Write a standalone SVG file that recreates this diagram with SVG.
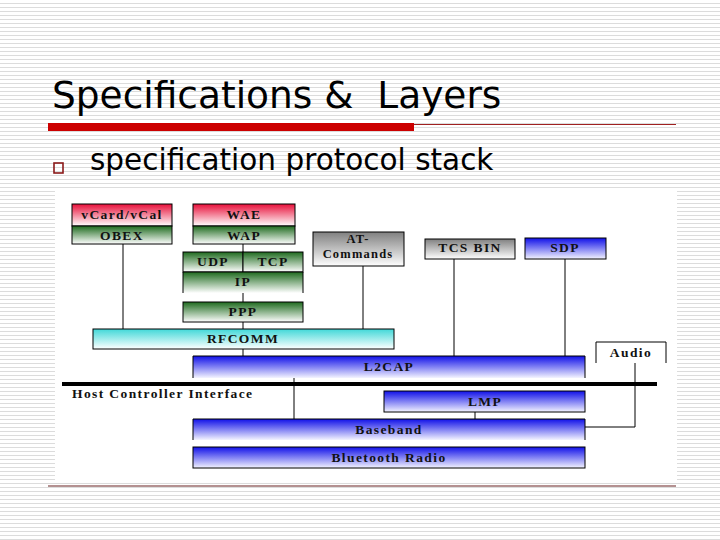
<svg xmlns="http://www.w3.org/2000/svg" width="720" height="540" viewBox="0 0 720 540">
<defs>
<pattern id="stripes" width="8" height="4" patternUnits="userSpaceOnUse">
<rect width="8" height="4" fill="#ffffff"/>
<rect y="3" width="8" height="1" fill="#dcdcdc"/>
</pattern>
<linearGradient id="gRed" x1="0" y1="0" x2="0" y2="1"><stop offset="0" stop-color="#e8103a"/><stop offset="1" stop-color="#ffffff"/></linearGradient>
<linearGradient id="gGreen" x1="0" y1="0" x2="0" y2="1"><stop offset="0" stop-color="#1e6a1e"/><stop offset="1" stop-color="#ffffff"/></linearGradient>
<linearGradient id="gCyan" x1="0" y1="0" x2="0" y2="1"><stop offset="0" stop-color="#40d8d8"/><stop offset="1" stop-color="#ffffff"/></linearGradient>
<linearGradient id="gBlue" x1="0" y1="0" x2="0" y2="1"><stop offset="0" stop-color="#1010e8"/><stop offset="1" stop-color="#f4f4ff"/></linearGradient>
<linearGradient id="gGray" x1="0" y1="0" x2="0" y2="1"><stop offset="0" stop-color="#808080"/><stop offset="1" stop-color="#ffffff"/></linearGradient>
</defs>
<style>
.box{stroke:#000;stroke-width:1}
.lbl{font-family:"Liberation Serif","Times New Roman",serif;font-weight:bold;font-size:13.5px;letter-spacing:1.4px;fill:#111;text-anchor:middle}
.sm{font-size:12.5px;letter-spacing:1.2px}
.ln{stroke:#000;stroke-width:1;fill:none}
</style>
<rect width="720" height="540" fill="url(#stripes)"/>
<g id="title">
<text x="52" y="108" font-family="'DejaVu Sans',Verdana,sans-serif" font-size="37.5" fill="#000" xml:space="preserve">Specifications &amp;  Layers</text>
<rect x="48" y="123" width="366" height="8" fill="#cc0000"/>
<line x1="414" y1="124.5" x2="676" y2="124.5" stroke="#a02020" stroke-width="1"/>
</g>
<g id="bullet">
<rect x="54" y="163" width="9" height="10" fill="none" stroke="#8b1a1a" stroke-width="1.6"/>
<text x="90" y="170" font-family="'DejaVu Sans',Verdana,sans-serif" font-size="29.5" fill="#000">specification protocol stack</text>
</g>
<rect x="55" y="190" width="622" height="292" fill="#ffffff"/>
<g id="connectors">
<path class="ln" d="M123 244V329M243 244V252M243 293V302M243 322V329M363 266V329M243 349V356M454 259V356M565 259V356M294 378V419M475 412V419M635 363V427H585"/>
<line x1="62" y1="384" x2="657" y2="384" stroke="#000" stroke-width="4"/>
</g>
<g id="vcard"><rect class="box" x="72" y="204" width="100" height="22" fill="url(#gRed)"/><text class="lbl" x="122" y="219">vCard/vCal</text></g>
<g id="obex"><rect class="box" x="72" y="226" width="100" height="18" fill="url(#gGreen)"/><text class="lbl" x="122" y="240">OBEX</text></g>
<g id="wae"><rect class="box" x="193" y="204" width="102" height="22" fill="url(#gRed)"/><text class="lbl" x="244" y="219">WAE</text></g>
<g id="wap"><rect class="box" x="193" y="226" width="102" height="18" fill="url(#gGreen)"/><text class="lbl" x="244" y="240">WAP</text></g>
<g id="udp"><rect class="box" x="183" y="252" width="60" height="20" fill="url(#gGreen)"/><text class="lbl" x="213" y="266">UDP</text></g>
<g id="tcp"><rect class="box" x="243" y="252" width="60" height="20" fill="url(#gGreen)"/><text class="lbl" x="273" y="266">TCP</text></g>
<g id="ip"><rect x="183" y="272" width="120" height="21" fill="url(#gGreen)"/><path class="ln" d="M183 293V272H303V293"/><text class="lbl" x="243" y="286">IP</text></g>
<g id="ppp"><rect class="box" x="183" y="302" width="120" height="20" fill="url(#gGreen)"/><text class="lbl" x="243" y="316">PPP</text></g>
<g id="at"><rect class="box" x="313" y="232" width="91" height="34" fill="url(#gGray)"/><text class="lbl sm" x="358" y="243">AT-</text><text class="lbl sm" x="358" y="258">Commands</text></g>
<g id="tcsbin"><rect class="box" x="425" y="239" width="90" height="20" fill="url(#gGray)"/><text class="lbl" x="470" y="252">TCS BIN</text></g>
<g id="sdp"><rect class="box" x="525" y="238" width="81" height="21" fill="url(#gBlue)"/><text class="lbl" x="565" y="252">SDP</text></g>
<g id="rfcomm"><rect class="box" x="93" y="329" width="301" height="20" fill="url(#gCyan)"/><text class="lbl" x="243" y="343">RFCOMM</text></g>
<g id="audio"><path class="ln" d="M596 363V342H666V363"/><text class="lbl" x="631" y="357">Audio</text></g>
<g id="l2cap"><rect x="193" y="356" width="392" height="22" fill="url(#gBlue)"/><path class="ln" d="M193 378V356H585V378"/><text class="lbl" x="389" y="371">L2CAP</text></g>
<g id="hci"><text x="72" y="398" font-family="'Liberation Serif','Times New Roman',serif" font-weight="bold" font-size="13.5" letter-spacing="1.4" fill="#111">Host Controller Interface</text></g>
<g id="lmp"><rect class="box" x="384" y="391" width="201" height="21" fill="url(#gBlue)"/><text class="lbl" x="485" y="406">LMP</text></g>
<g id="baseband"><rect x="193" y="419" width="392" height="21" fill="url(#gBlue)"/><path class="ln" d="M193 440V419H585V440"/><text class="lbl" x="389" y="434">Baseband</text></g>
<g id="radio"><rect class="box" x="193" y="447" width="392" height="21" fill="url(#gBlue)"/><text class="lbl" x="389" y="462">Bluetooth Radio</text></g>
<line x1="48" y1="486" x2="676" y2="486" stroke="#6b2525" stroke-width="1.2"/>
</svg>
